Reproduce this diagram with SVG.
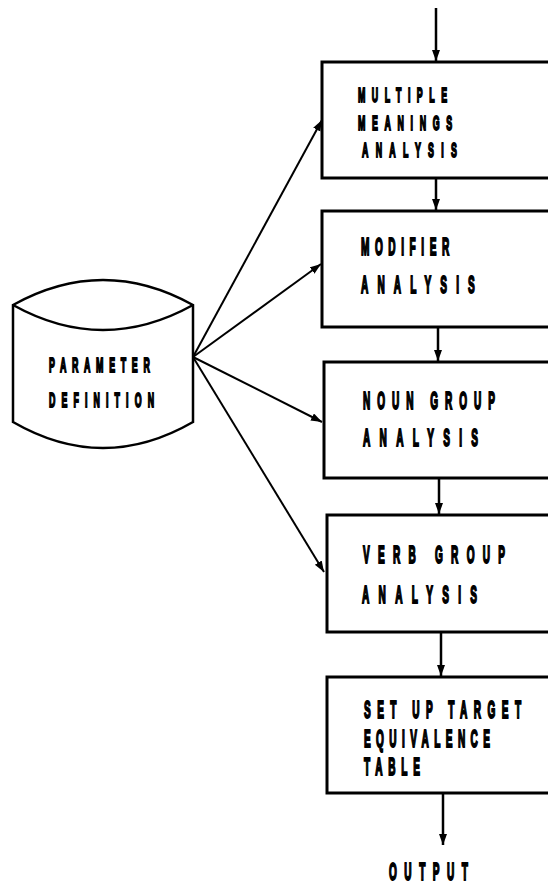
<svg xmlns="http://www.w3.org/2000/svg" width="548" height="884" viewBox="0 0 548 884">
<style>
.box{fill:#fff;stroke:#000;stroke-width:3}
.cyl{fill:#fff;stroke:#000;stroke-width:2.5}
.ln{fill:none;stroke:#000;stroke-width:2.5}
.fan{fill:none;stroke:#000;stroke-width:2}
.t{font-family:"Liberation Sans",Arial,sans-serif;font-weight:bold;font-size:24px;fill:#000;stroke:#000;stroke-width:2}
.s{font-size:21px}
</style>
<defs>
<marker id="ah" markerUnits="userSpaceOnUse" markerWidth="12" markerHeight="10" refX="11" refY="4" orient="auto">
<path d="M0,0 L11,4 L0,8 Z" fill="#000"/>
</marker>
</defs>
<rect width="548" height="884" fill="#fff"/>
<g id="connectors">
<line class="ln" x1="436" y1="8" x2="436" y2="61" marker-end="url(#ah)"/>
<line class="ln" x1="436" y1="178" x2="436" y2="210" marker-end="url(#ah)"/>
<line class="ln" x1="438" y1="327" x2="438" y2="361" marker-end="url(#ah)"/>
<line class="ln" x1="439" y1="478" x2="439" y2="514" marker-end="url(#ah)"/>
<line class="ln" x1="441" y1="632" x2="441" y2="676" marker-end="url(#ah)"/>
<line class="ln" x1="443" y1="793" x2="443" y2="845" marker-end="url(#ah)"/>
<line class="fan" x1="193" y1="357" x2="322" y2="120" marker-end="url(#ah)"/>
<line class="fan" x1="193" y1="357" x2="321" y2="264" marker-end="url(#ah)"/>
<line class="fan" x1="193" y1="357" x2="322" y2="422" marker-end="url(#ah)"/>
<line class="fan" x1="193" y1="357" x2="324" y2="572" marker-end="url(#ah)"/>
</g>
<g id="param">
<path class="cyl" d="M13,305 Q103,255 193,305 L193,422 Q103,474 13,422 Z"/>
<path class="cyl" d="M13,305 Q103,355 193,305"/>
<text class="t s" transform="translate(49,372) scale(0.42,1)" textLength="240" lengthAdjust="spacing">PARAMETER</text>
<text class="t s" transform="translate(49,407) scale(0.42,1)" textLength="250" lengthAdjust="spacing">DEFINITION</text>
</g>
<g id="multiple">
<rect class="box" x="322" y="62" width="240" height="116"/>
<text class="t s" transform="translate(358,102) scale(0.42,1)" textLength="212" lengthAdjust="spacing">MULTIPLE</text>
<text class="t s" transform="translate(358,130) scale(0.42,1)" textLength="224" lengthAdjust="spacing">MEANINGS</text>
<text class="t s" transform="translate(362,157) scale(0.42,1)" textLength="226" lengthAdjust="spacing">ANALYSIS</text>
</g>
<g id="modifier">
<rect class="box" x="322" y="211" width="240" height="116"/>
<text class="t" transform="translate(361,255) scale(0.42,1)" textLength="210" lengthAdjust="spacing">MODIFIER</text>
<text class="t" transform="translate(361,293) scale(0.42,1)" textLength="271" lengthAdjust="spacing">ANALYSIS</text>
</g>
<g id="noun">
<rect class="box" x="324" y="362" width="240" height="116"/>
<text class="t" transform="translate(363,409) scale(0.42,1)" textLength="314" lengthAdjust="spacing">NOUN GROUP</text>
<text class="t" transform="translate(363,446) scale(0.42,1)" textLength="274" lengthAdjust="spacing">ANALYSIS</text>
</g>
<g id="verb">
<rect class="box" x="327" y="515" width="240" height="117"/>
<text class="t" transform="translate(363,563) scale(0.42,1)" textLength="338" lengthAdjust="spacing">VERB GROUP</text>
<text class="t" transform="translate(362,603) scale(0.42,1)" textLength="274" lengthAdjust="spacing">ANALYSIS</text>
</g>
<g id="target">
<rect class="box" x="327" y="677" width="240" height="116"/>
<text class="t" transform="translate(364,718) scale(0.42,1)" textLength="374" lengthAdjust="spacing">SET UP TARGET</text>
<text class="t" transform="translate(364,747) scale(0.42,1)" textLength="300" lengthAdjust="spacing">EQUIVALENCE</text>
<text class="t" transform="translate(364,775) scale(0.42,1)" textLength="133" lengthAdjust="spacing">TABLE</text>
</g>
<g id="output">
<text class="t" transform="translate(389,880) scale(0.42,1)" textLength="188" lengthAdjust="spacing">OUTPUT</text>
</g>
</svg>
